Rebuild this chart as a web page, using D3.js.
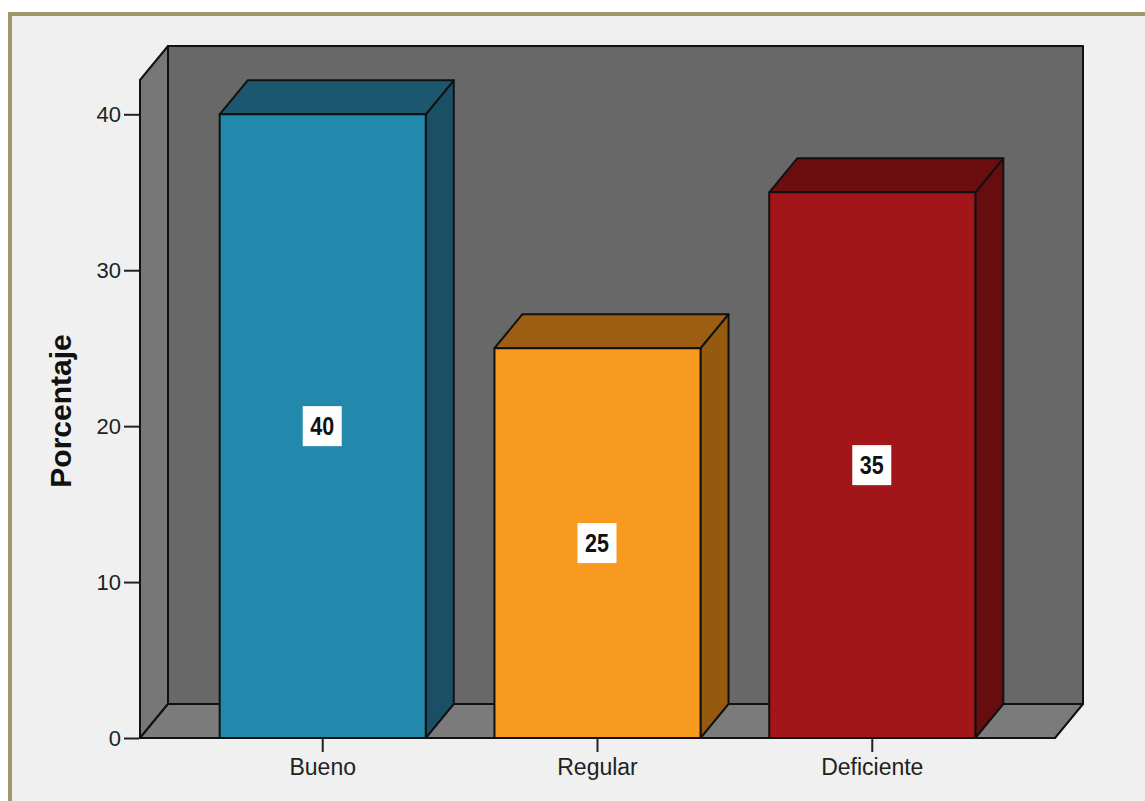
<!DOCTYPE html>
<html><head><meta charset="utf-8">
<script src="https://cdn.jsdelivr.net/npm/d3@7"></script>
<style>html,body{margin:0;padding:0;background:#fff;}svg{display:block;}</style>
</head><body>
<svg id="chart" width="1145" height="801"></svg>
<script>
const categories = ["Bueno", "Regular", "Deficiente"];
const values = [40, 25, 35];
const yTicks = [0, 10, 20, 30, 40];
const frontColors = ["#2389ac", "#f89a1f", "#a2161a"];
const topColors = ["#1b5870", "#9c5e12", "#6a0e10"];
const sideColors = ["#195064", "#955910", "#650d0f"];

const svg = d3.select("#chart");
const dx = 28, dy = -34;

// frame
svg.append("rect").attr("x", 10).attr("y", 14).attr("width", 1300).attr("height", 900)
  .attr("fill", "#f0f0f0").attr("stroke", "#a09866").attr("stroke-width", 4);

const x = d3.scaleBand().domain(categories).range([140, 1055]).paddingInner(0.25).paddingOuter(0.29);
const y = d3.scaleLinear().domain([0, 42.2]).range([738, 80]);

const x0 = x.range()[0], x1 = x.range()[1];
const yb = y(0), yt = y(42.2);
const g = svg.append("g").attr("stroke", "#111").attr("stroke-width", 2).attr("stroke-linejoin", "round");

// back wall
g.append("rect").attr("x", x0 + dx).attr("y", yt + dy).attr("width", x1 - x0).attr("height", yb - yt)
  .attr("fill", "#686868");
// left wall
g.append("polygon").attr("points", [[x0, yt], [x0 + dx, yt + dy], [x0 + dx, yb + dy], [x0, yb]].join(" "))
  .attr("fill", "#777777");
// floor
g.append("polygon").attr("points", [[x0, yb], [x0 + dx, yb + dy], [x1 + dx, yb + dy], [x1, yb]].join(" "))
  .attr("fill", "#7b7b7b");

// bars
categories.forEach((c, i) => {
  const bx0 = x(c), bx1 = x(c) + x.bandwidth(), by = y(values[i]);
  g.append("polygon").attr("points", [[bx1, by], [bx1 + dx, by + dy], [bx1 + dx, yb + dy], [bx1, yb]].join(" "))
    .attr("fill", sideColors[i]);
  g.append("polygon").attr("points", [[bx0, by], [bx0 + dx, by + dy], [bx1 + dx, by + dy], [bx1, by]].join(" "))
    .attr("fill", topColors[i]);
  g.append("rect").attr("x", bx0).attr("y", by).attr("width", x.bandwidth()).attr("height", yb - by)
    .attr("fill", frontColors[i]);
});

// value labels
categories.forEach((c, i) => {
  const cx = x(c) + x.bandwidth() / 2, cy = y(values[i] / 2);
  svg.append("rect").attr("x", cx - 20).attr("y", cy - 20).attr("width", 39).attr("height", 40).attr("fill", "#fff");
  svg.append("text").attr("transform", `translate(${cx - 0.5},${cy + 9}) scale(0.86,1)`)
    .attr("text-anchor", "middle")
    .attr("font-family", "'Liberation Sans',Arial,sans-serif")
    .attr("font-weight", "bold").attr("font-size", 25).attr("fill", "#111")
    .text(values[i]);
});

// axis lines
svg.append("line").attr("x1", x0).attr("x2", x1).attr("y1", yb).attr("y2", yb).attr("stroke", "#111").attr("stroke-width", 2);

// y axis
const yAxis = d3.axisLeft(y).tickValues(yTicks).tickSize(15).tickPadding(3).tickFormat(d3.format("d"));
const ya = svg.append("g").attr("transform", `translate(${x0 - 1},0)`).call(yAxis);
ya.select(".domain").remove();
ya.selectAll(".tick line").attr("stroke", "#222").attr("stroke-width", 2);
ya.selectAll(".tick text").attr("font-family", "'Liberation Sans',Arial,sans-serif").attr("font-size", 22).attr("fill", "#222");

// x axis
const xAxis = d3.axisBottom(x).tickSize(14).tickPadding(7);
const xa = svg.append("g").attr("transform", `translate(0,${yb})`).call(xAxis);
xa.select(".domain").remove();
xa.selectAll(".tick line").attr("stroke", "#222").attr("stroke-width", 2);
xa.selectAll(".tick text").attr("font-family", "'Liberation Sans',Arial,sans-serif").attr("font-size", 23).attr("fill", "#222");

// y title
svg.append("text").attr("transform", "translate(71,411) rotate(-90)")
  .attr("text-anchor", "middle").attr("font-family", "'Liberation Sans',Arial,sans-serif")
  .attr("font-weight", "bold").attr("font-size", 30).attr("fill", "#111").text("Porcentaje");
</script>
</body></html>
